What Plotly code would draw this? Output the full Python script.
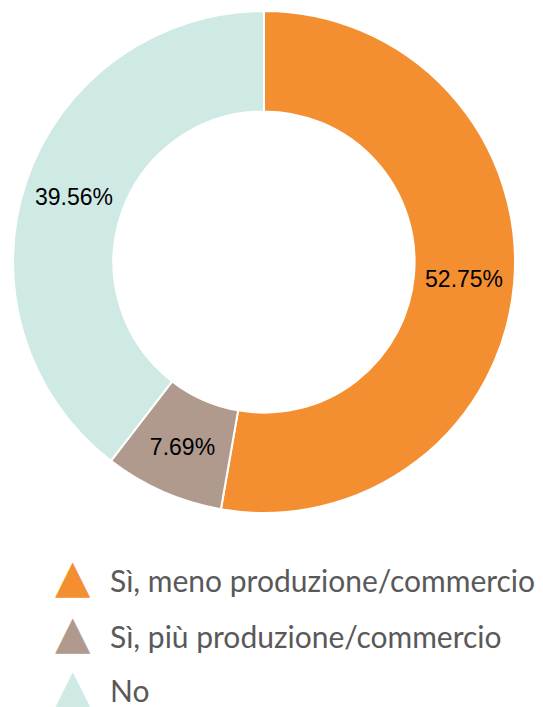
import plotly.graph_objects as go

categories = ["Sì, meno produzione/commercio", "Sì, più produzione/commercio", "No"]
values = [48, 7, 36]
colors = ["#F48F31", "#B09A8E", "#CFEAE4"]

# page body has an 8px margin; work in figure-frame pixels
OFF = 8
W, H = 543 - OFF, 707 - OFF

def px_x(x):
    return (x - OFF) / W

def px_y(y):
    return 1 - (y - OFF) / H

fig = go.Figure()
fig.add_trace(go.Pie(
    labels=categories,
    values=values,
    hole=0.6,
    sort=False,
    direction="clockwise",
    rotation=0,
    marker=dict(colors=colors, line=dict(color="white", width=2)),
    texttemplate="%{percent:.2%}",
    textposition="inside",
    insidetextorientation="horizontal",
    textfont=dict(family="Liberation Sans, Arial, sans-serif", size=23, color="black"),
    showlegend=False,
    hoverinfo="label+percent",
    domain=dict(x=[px_x(13), px_x(515)], y=[px_y(513), px_y(11)]),
))

# custom legend with triangle symbols
legend_y = [580, 636, 690]
for cat, col, yy in zip(categories, colors, legend_y):
    fig.add_annotation(
        x=px_x(72.5), y=px_y(yy - 4), xref="paper", yref="paper",
        text="▲", showarrow=False, xanchor="center", yanchor="middle",
        font=dict(family="DejaVu Sans", size=46, color=col),
    )
    fig.add_annotation(
        x=px_x(108), y=px_y(yy), xref="paper", yref="paper",
        text=cat, showarrow=False, xanchor="left", yanchor="middle",
        font=dict(family="Lato, Open Sans, sans-serif", size=30, color="#595959"),
    )

fig.update_layout(
    width=W, height=H,
    margin=dict(l=0, r=0, t=0, b=0),
    paper_bgcolor="white",
    plot_bgcolor="white",
)

fig.write_html("out.html")
